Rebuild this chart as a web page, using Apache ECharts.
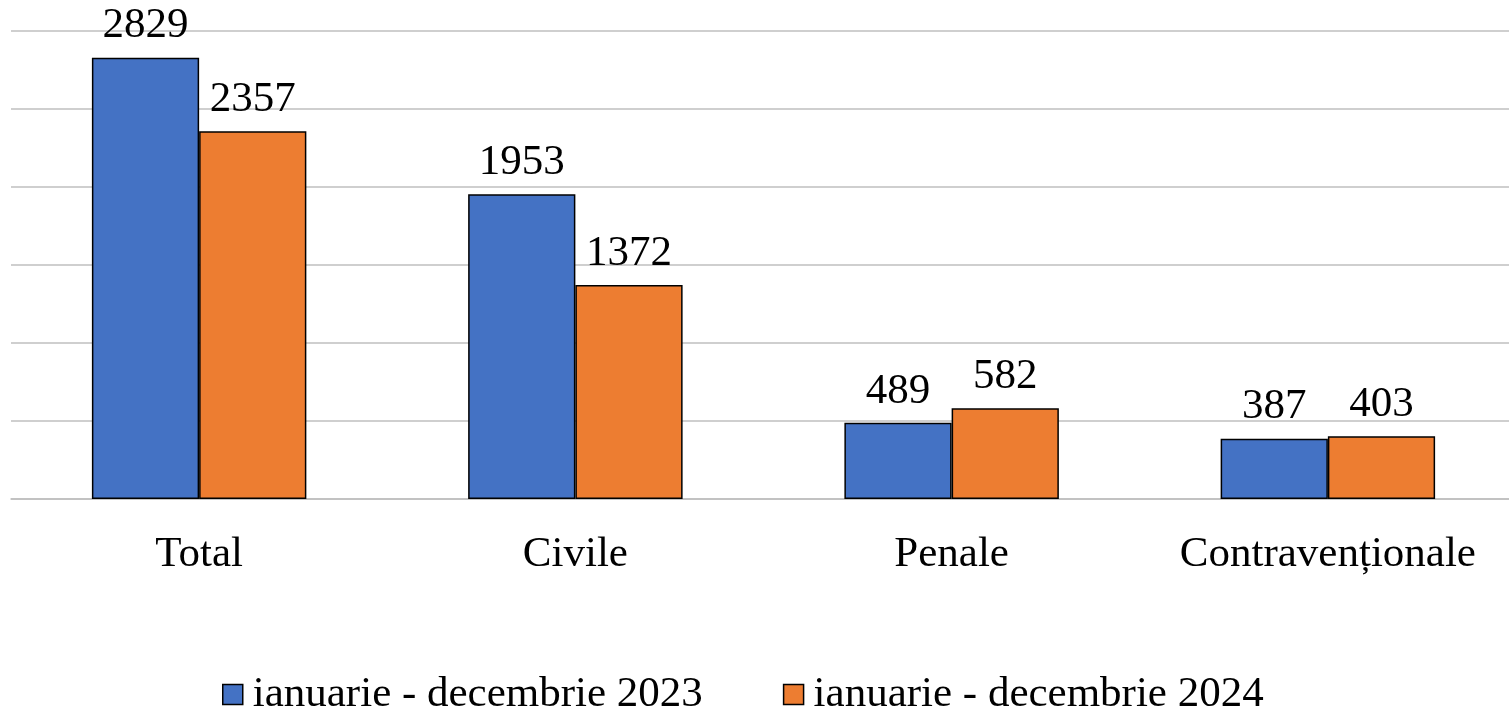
<!DOCTYPE html>
<html>
<head>
<meta charset="utf-8">
<script src="https://cdn.jsdelivr.net/npm/echarts@6/dist/echarts.min.js"></script>
<style>
  html, body { margin: 0; padding: 0; background: #fff; overflow: hidden; }
  #chart { width: 1516px; height: 710px; }
</style>
</head>
<body>
<div id="chart"></div>
<script>
// date
const categories = ['Total', 'Civile', 'Penale', 'Contravenționale']
const seriesNames = ['ianuarie - decembrie 2023', 'ianuarie - decembrie 2024']
const values2023 = [2829, 1953, 489, 387]
const values2024 = [2357, 1372, 582, 403]

const font = '"Liberation Serif", "DejaVu Serif", serif'

// graficul e putin mai lat decat fereastra, ca in original (marginea dreapta taiata)
const chart = echarts.init(document.getElementById('chart'))

const barStyle = (color) => ({
  color: color,
  borderColor: '#000',
  borderWidth: 1.5
})

const valueLabel = {
  show: true,
  position: 'top',
  distance: 10,
  fontFamily: font,
  fontSize: 43,
  color: '#000'
}

const options = {
  backgroundColor: '#fff',
  animation: false,
  grid: {
    left: 11,
    right: 0,
    top: 31,
    bottom: 211,
    containLabel: false
  },
  legend: {
    data: seriesNames,
    top: 673,
    left: 222,
    padding: 0,
    itemWidth: 20,
    itemHeight: 20,
    itemGap: 80,
    icon: 'rect',
    itemStyle: { borderColor: '#000', borderWidth: 1.5 },
    textStyle: {
      fontFamily: font,
      fontSize: 43,
      color: '#000',
      padding: [0, 0, 0, 5]
    }
  },
  xAxis: {
    type: 'category',
    data: categories,
    axisTick: { show: false },
    axisLine: { lineStyle: { color: '#bfbfbf', width: 1.5 } },
    axisLabel: {
      interval: 0,
      margin: 34,
      fontFamily: font,
      fontSize: 43,
      color: '#000'
    }
  },
  yAxis: {
    type: 'value',
    min: 0,
    max: 3000,
    interval: 500,
    axisLine: { show: false },
    axisTick: { show: false },
    axisLabel: { show: false },
    splitLine: { lineStyle: { color: '#bfbfbf', width: 1.5 } }
  },
  series: [
    {
      name: seriesNames[0],
      type: 'bar',
      barGap: '0%',
      barCategoryGap: '43%',
      itemStyle: barStyle('#4472C4'),
      label: valueLabel,
      data: values2023
    },
    {
      name: seriesNames[1],
      type: 'bar',
      barGap: '0%',
      barCategoryGap: '43%',
      itemStyle: barStyle('#ED7D31'),
      label: valueLabel,
      data: values2024
    }
  ]
}

chart.setOption(options, true)
</script>
</body>
</html>
